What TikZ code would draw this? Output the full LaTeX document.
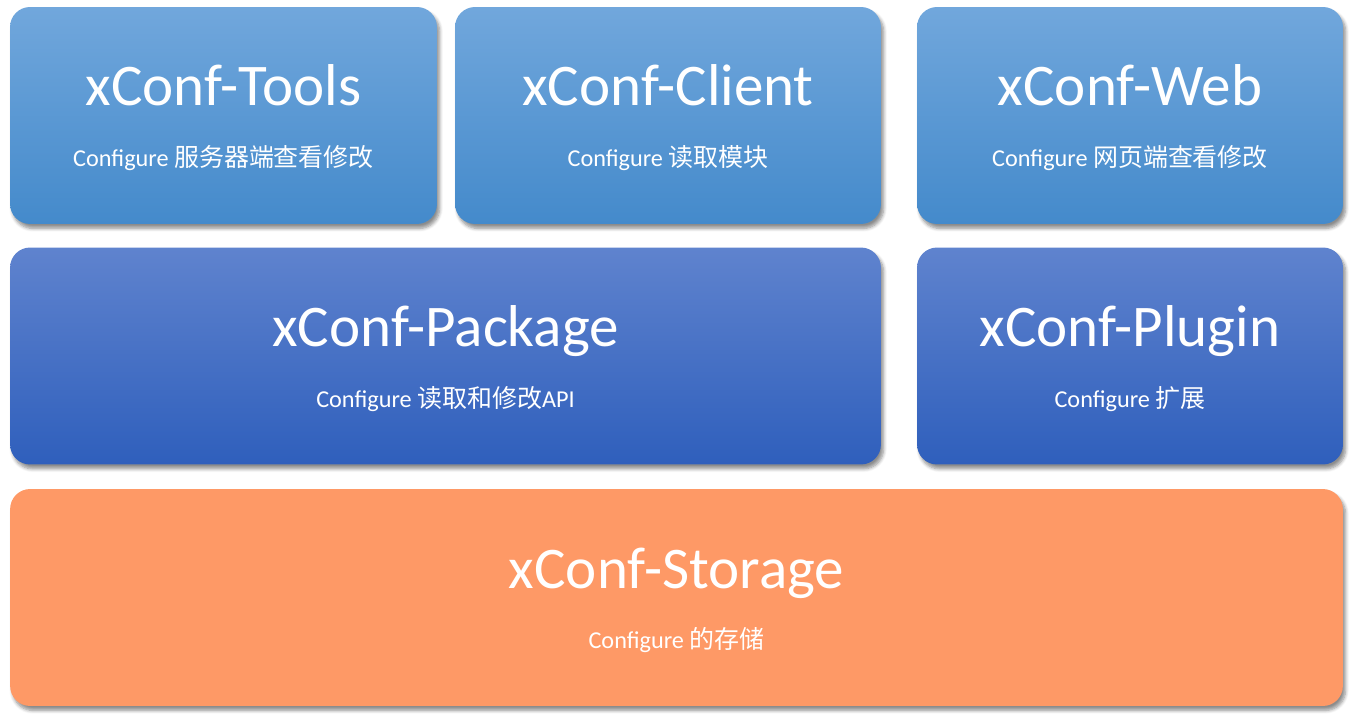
\documentclass[tikz,border=0pt]{standalone}
\usepackage{fontspec}
\setmainfont{Carlito}
\newfontfamily\cjk[Scale=1.03]{Noto Sans CJK SC}
\usetikzlibrary{shadows.blur}
\definecolor{appTop}{RGB}{113,167,220}
\definecolor{appBot}{RGB}{68,138,203}
\definecolor{libTop}{RGB}{95,131,206}
\definecolor{libBot}{RGB}{47,95,188}
\definecolor{storeFill}{RGB}{254,153,102}
\tikzset{
  layer/.style={rounded corners=0.4cm, minimum height=4.34cm, inner sep=0pt,
    blur shadow={shadow xshift=1.5pt, shadow yshift=-2.5pt, shadow blur steps=6, shadow opacity=45}},
  upper/.style={layer, top color=appTop, bottom color=appBot},
  middle/.style={layer, top color=libTop, bottom color=libBot},
  base/.style={layer, fill=storeFill},
  title/.style={text=white, anchor=base, font=\fontsize{33.6}{38}\selectfont},
  sub/.style={text=white, anchor=base, font=\fontsize{13.8}{16}\selectfont}
}

\begin{document}
\begin{tikzpicture}[x=0.02cm,y=-0.02cm]
      \useasboundingbox (0,0) rectangle (1354,719);
      % top row
      \node[upper, minimum width=8.54cm] (tools) at (223.5,115.5) {};
      \node[upper, minimum width=8.52cm] (client) at (668,115.5) {};
      \node[upper, minimum width=8.52cm] (web) at (1130,115.5) {};
      % middle row
      \node[middle, minimum width=17.42cm] (package) at (445.5,356) {};
      \node[middle, minimum width=8.52cm] (plugin) at (1130,356) {};
      % bottom row
      \node[base, minimum width=26.66cm] (storage) at (676.5,597.5) {};
      % texts
      \node[title] (tools-t) at ([yshift=0.19cm]tools.center) {xConf-Tools};
      \node[sub] (tools-s) at ([yshift=-1.03cm]tools.center) {Configure {\cjk 服务器端查看修改}};
      \node[title] (client-t) at ([yshift=0.19cm]client.center) {xConf-Client};
      \node[sub] (client-s) at ([yshift=-1.03cm]client.center) {Configure {\cjk 读取模块}};
      \node[title] (web-t) at ([yshift=0.19cm]web.center) {xConf-Web};
      \node[sub] (web-s) at ([yshift=-1.03cm]web.center) {Configure {\cjk 网页端查看修改}};
      \node[title] (package-t) at ([yshift=0.19cm]package.center) {xConf-Package};
      \node[sub] (package-s) at ([yshift=-1.03cm]package.center) {Configure {\cjk 读取和修改}API};
      \node[title] (plugin-t) at ([yshift=0.19cm]plugin.center) {xConf-Plugin};
      \node[sub] (plugin-s) at ([yshift=-1.03cm]plugin.center) {Configure {\cjk 扩展}};
      \node[title] (storage-t) at ([yshift=0.19cm]storage.center) {xConf-Storage};
      \node[sub] (storage-s) at ([yshift=-1.03cm]storage.center) {Configure {\cjk 的存储}};
\end{tikzpicture}
\end{document}
